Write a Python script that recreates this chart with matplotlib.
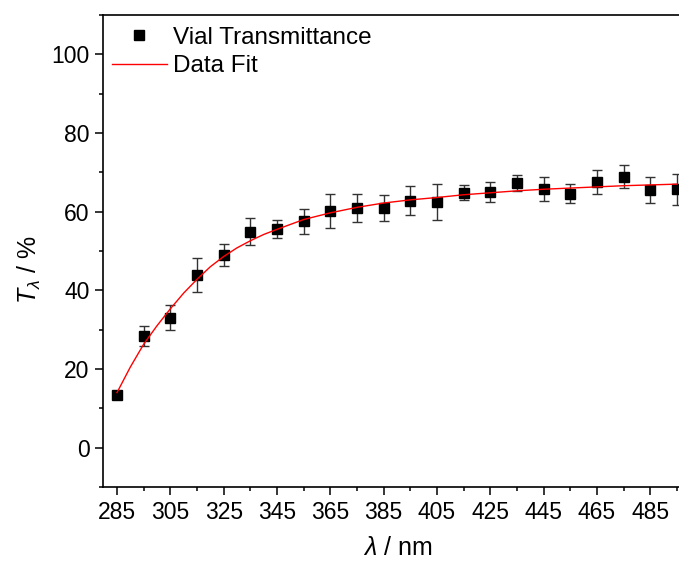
import matplotlib
matplotlib.use("Agg")
import matplotlib.pyplot as plt
from matplotlib.lines import Line2D

plt.rcParams['font.family'] = ['Liberation Sans', 'DejaVu Sans']
plt.rcParams['mathtext.fontset'] = 'custom'
plt.rcParams['mathtext.rm'] = 'Liberation Sans'
plt.rcParams['mathtext.it'] = 'Liberation Sans:italic'

# Measured data
wavelength = [285, 295, 305, 315, 325, 335, 345, 355, 365, 375, 385,
              395, 405, 415, 425, 435, 445, 455, 465, 475, 485, 495]
transmittance = [13.3, 28.4, 33.0, 43.9, 49.0, 54.9, 55.6, 57.5, 60.2, 61.0, 60.9,
                 62.8, 62.5, 64.8, 65.0, 67.3, 65.8, 64.6, 67.6, 68.9, 65.5, 65.7]
error = [0.6, 2.6, 3.2, 4.3, 2.7, 3.5, 2.4, 3.3, 4.3, 3.6, 3.3,
         3.6, 4.5, 1.9, 2.6, 2.1, 3.0, 2.4, 3.1, 3.0, 3.2, 3.9]

# Fit curve
fit_x = [285, 290, 295, 300, 305, 310, 315, 320, 325, 330, 335, 340, 345,
         355, 365, 375, 385, 395, 405, 415, 425, 435, 445, 455, 465, 475, 485, 495]
fit_y = [14.0, 20.5, 26.3, 31.0, 35.3, 39.3, 42.8, 46.0, 48.6, 50.8, 52.6, 54.2, 55.5,
         58.0, 59.7, 61.1, 62.2, 63.0, 63.6, 64.3, 64.8, 65.3, 65.7, 66.0, 66.3, 66.6, 66.8, 67.0]

xticks = [285, 305, 325, 345, 365, 385, 405, 425, 445, 465, 485]
yticks = [0, 20, 40, 60, 80, 100]

fig = plt.figure(figsize=(6.79, 5.61), dpi=100)
ax = fig.add_axes([103/679, 1 - 487/561, 1 - 103/679, (487 - 15)/561])

ax.errorbar(wavelength, transmittance, yerr=error, fmt='s', color='black',
            markersize=7.5, ecolor='#333333', elinewidth=1.0, capsize=3.5,
            capthick=1.0, zorder=3)
ax.plot(fit_x, fit_y, color='red', linewidth=1.0, zorder=4)

ax.set_xlim(279.75, 495.75)
ax.set_xticks(xticks)
ax.set_xticks([x + 10 for x in xticks], minor=True)
ax.set_yticks(yticks)
ax.set_yticks([y + 10 for y in [-20] + yticks], minor=True)
ax.set_ylim(-10, 110)

for s in ['left', 'bottom', 'top']:
    ax.spines[s].set_linewidth(1.2)
ax.spines['right'].set_visible(False)
ax.tick_params(which='major', direction='out', length=5.8, width=1.1, labelsize=16.5,
               top=False, right=False, pad=4)
ax.tick_params(which='minor', direction='out', length=3.0, width=1.1,
               top=False, right=False)

ax.set_xlabel(r'$\it{\lambda}$ / nm', fontsize=18)
ax.set_ylabel(r'$\it{T}_{\it{\lambda}}$ / %', fontsize=18)
ax.xaxis.set_label_coords(0.512, -0.104)
ax.yaxis.set_label_coords(-0.104, 0.46)

h0 = Line2D([], [], marker='s', color='black', linestyle='none', markersize=7.5)
h1 = Line2D([], [], color='red', linewidth=1.0)
ax.legend([h0, h1], ['Vial Transmittance', 'Data Fit'], loc='upper left',
          bbox_to_anchor=(0.0, 0.9936), borderaxespad=0.0, borderpad=0.35,
          frameon=False, fontsize=17.5, handlelength=2.3,
          handletextpad=0.25, labelspacing=0.28)

fig.savefig('out.png', dpi=100)
